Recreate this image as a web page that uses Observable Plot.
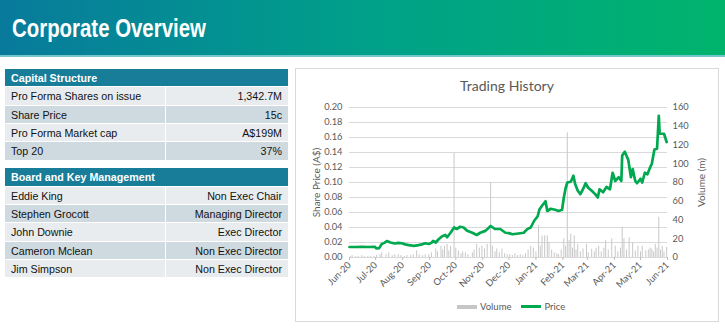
<!DOCTYPE html>
<html><head><meta charset="utf-8">
<script src="https://cdn.jsdelivr.net/npm/d3@7"></script>
<script src="https://cdn.jsdelivr.net/npm/@observablehq/plot@0.6"></script>
<style>
html,body{margin:0;padding:0;}
body{width:725px;height:330px;position:relative;background:#fff;font-family:"Liberation Sans",Arial,sans-serif;overflow:hidden}
#hdr{position:absolute;left:0;top:0;width:725px;height:55px;background:linear-gradient(90deg,#087a9c 0%,#00a08a 50%,#00b46c 100%);}
#hdrline{position:absolute;left:0;top:55px;width:725px;height:2px;background:#72c6cc}
#title{position:absolute;left:12px;top:13px;color:#fff;font-weight:bold;font-size:25.5px;line-height:30px;transform:scaleX(0.8);transform-origin:left top;white-space:nowrap}
.tbl{position:absolute;left:5px;width:283px}
.row{position:relative;height:18.35px;line-height:18.35px;font-size:10.7px;color:#111;box-sizing:border-box;border-bottom:1px solid #fff}
.hd{background:#177d99;color:#fff;font-weight:bold;padding-left:6px}
.lbl{position:absolute;left:6px;top:0}
.val{position:absolute;left:160px;right:0;top:0;bottom:0;border-left:1.5px solid #fff;text-align:right;padding-right:6px}
.light{background:#e8ecef}
.dark{background:#cfdae0}
#chartbox{position:absolute;left:295px;top:68px;width:422px;height:252px;border:1px solid #d9d9d9;}
#ctitle{position:absolute;left:295px;width:424px;top:77px;text-align:center;font-family:Lato,"Open Sans",sans-serif;font-size:14px;color:#595959}
#plot{position:absolute;left:296px;top:95px}
#legend{position:absolute;left:457px;top:300px;font-family:Lato,sans-serif;font-size:9.5px;color:#595959;white-space:nowrap;line-height:12px}
#legend span{display:inline-block;vertical-align:middle}
</style></head>
<body>
<div id="hdr"></div><div id="hdrline"></div>
<div id="title">Corporate Overview</div>
<div id="tables"></div>
<div id="chartbox"></div>
<div id="ctitle">Trading History</div>
<div id="plot"></div>
<div id="legend"><span style="width:20px;height:4px;background:#c6c6c6;margin-right:3px"></span><span>Volume</span><span style="width:20px;height:2.5px;background:#00a84f;margin-left:10px;margin-right:3px"></span><span>Price</span></div>
<script>
// ---------- table data ----------
const capitalTitle = "Capital Structure";
const capitalLabels = ["Pro Forma Shares on issue","Share Price","Pro Forma Market cap","Top 20"];
const capitalValues = ["1,342.7M","15c","A$199M","37%"];
const boardTitle = "Board and Key Management";
const boardNames = ["Eddie King","Stephen Grocott","John Downie","Cameron Mclean","Jim Simpson"];
const boardRoles = ["Non Exec Chair","Managing Director","Exec Director","Non Exec Director","Non Exec Director"];

// ---------- chart data ----------
const priceDates = ["2020-06-01","2020-06-08","2020-06-15","2020-06-22","2020-06-30","2020-07-02","2020-07-05","2020-07-08","2020-07-11","2020-07-14","2020-07-18","2020-07-23","2020-07-27","2020-07-31","2020-08-04","2020-08-08","2020-08-14","2020-08-19","2020-08-23","2020-08-27","2020-08-31","2020-09-03","2020-09-05","2020-09-08","2020-09-11","2020-09-15","2020-09-19","2020-09-21","2020-09-25","2020-09-29","2020-10-02","2020-10-06","2020-10-10","2020-10-14","2020-10-20","2020-10-25","2020-10-29","2020-11-04","2020-11-10","2020-11-15","2020-11-21","2020-11-27","2020-12-01","2020-12-05","2020-12-12","2020-12-18","2020-12-22","2020-12-26","2020-12-30","2021-01-03","2021-01-05","2021-01-08","2021-01-12","2021-01-14","2021-01-18","2021-01-23","2021-01-27","2021-01-31","2021-02-02","2021-02-04","2021-02-06","2021-02-10","2021-02-13","2021-02-15","2021-02-18","2021-02-21","2021-02-24","2021-02-27","2021-03-02","2021-03-06","2021-03-10","2021-03-13","2021-03-15","2021-03-19","2021-03-23","2021-03-27","2021-03-30","2021-04-02","2021-04-06","2021-04-09","2021-04-10","2021-04-13","2021-04-17","2021-04-20","2021-04-22","2021-04-25","2021-04-27","2021-05-01","2021-05-03","2021-05-06","2021-05-09","2021-05-12","2021-05-14","2021-05-17","2021-05-20","2021-05-22","2021-05-23","2021-05-28","2021-05-31"];
const prices = [0.014,0.014,0.0142,0.014,0.0142,0.012,0.0125,0.018,0.0195,0.022,0.020,0.0187,0.0195,0.019,0.0175,0.0165,0.0156,0.0165,0.0175,0.019,0.018,0.0195,0.022,0.020,0.024,0.028,0.030,0.027,0.033,0.040,0.038,0.041,0.040,0.0356,0.033,0.030,0.033,0.0355,0.042,0.038,0.038,0.033,0.0325,0.031,0.032,0.033,0.0378,0.040,0.049,0.055,0.064,0.069,0.075,0.062,0.065,0.0636,0.062,0.0636,0.080,0.092,0.100,0.101,0.109,0.098,0.089,0.0845,0.091,0.099,0.093,0.089,0.0845,0.080,0.091,0.087,0.094,0.091,0.113,0.102,0.107,0.102,0.136,0.141,0.130,0.107,0.118,0.102,0.099,0.105,0.100,0.113,0.111,0.120,0.125,0.144,0.145,0.189,0.165,0.165,0.154];

const volDates = ["2020-06-02","2020-06-04","2020-06-08","2020-06-11","2020-06-15","2020-06-18","2020-06-22","2020-06-25","2020-06-29","2020-07-02","2020-07-06","2020-07-08","2020-07-13","2020-07-16","2020-07-20","2020-07-23","2020-07-27","2020-07-30","2020-08-03","2020-08-06","2020-08-10","2020-08-13","2020-08-17","2020-08-20","2020-08-24","2020-08-27","2020-08-31","2020-09-03","2020-09-08","2020-09-10","2020-09-14","2020-09-16","2020-09-18","2020-09-21","2020-09-23","2020-09-25","2020-09-29","2020-10-01","2020-10-04","2020-10-07","2020-10-09","2020-10-12","2020-10-15","2020-10-20","2020-10-22","2020-10-25","2020-10-28","2020-10-31","2020-11-03","2020-11-06","2020-11-10","2020-11-12","2020-11-15","2020-11-17","2020-11-20","2020-11-23","2020-11-26","2020-11-29","2020-12-02","2020-12-05","2020-12-08","2020-12-11","2020-12-14","2020-12-17","2020-12-20","2020-12-23","2020-12-26","2020-12-29","2021-01-01","2021-01-04","2021-01-06","2021-01-08","2021-01-11","2021-01-14","2021-01-16","2021-01-19","2021-01-22","2021-01-25","2021-01-27","2021-01-30","2021-02-02","2021-02-04","2021-02-06","2021-02-08","2021-02-10","2021-02-12","2021-02-14","2021-02-16","2021-02-18","2021-02-21","2021-02-24","2021-02-28","2021-03-02","2021-03-06","2021-03-09","2021-03-11","2021-03-14","2021-03-17","2021-03-20","2021-03-22","2021-03-25","2021-03-29","2021-04-02","2021-04-05","2021-04-08","2021-04-10","2021-04-12","2021-04-15","2021-04-18","2021-04-22","2021-04-25","2021-04-28","2021-05-01","2021-05-03","2021-05-07","2021-05-10","2021-05-12","2021-05-14","2021-05-16","2021-05-18","2021-05-20","2021-05-22","2021-05-24","2021-05-26","2021-05-28","2021-05-31"];
const volumes = [1,2,1,1,2,1,1,1,1,2,3,5,3,5,2,3,3,2,1,2,2,3,7,3,2,3,3,5,9,6,12,8,12,14,7,12,111,10,7,4,6,5,3,5,8,14,10,12,9,14,80,12,6,9,5,9,4,3,3,2,4,2,3,2,4,8,12,10,6,34,12,23,23,23,16,8,5,4,3,8,20,12,133,18,25,10,23,8,14,6,9,14,5,9,6,10,12,6,10,18,8,20,12,6,10,32,20,8,21,16,7,12,6,12,7,8,10,9,6,14,10,43,8,12,6,11];

const monthTicks = ["2020-06-01","2020-07-01","2020-08-01","2020-09-01","2020-10-01","2020-11-01","2020-12-01","2021-01-01","2021-02-01","2021-03-01","2021-04-01","2021-05-01","2021-06-01"];
const priceTicks = [0,0.02,0.04,0.06,0.08,0.10,0.12,0.14,0.16,0.18,0.20];
const volumeTicks = [0,20,40,60,80,100,120,140,160];
const priceMax = 0.20, volumeMax = 160;

// ---------- tables ----------
function makeTable(top, title, labels, values){
  const t = document.createElement("div");
  t.className = "tbl"; t.style.top = top + "px";
  let h = `<div class="row hd">${title}</div>`;
  labels.forEach((l,i)=>{
    h += `<div class="row ${i%2===0?"light":"dark"}"><span class="lbl">${l}</span><span class="val">${values[i]}</span></div>`;
  });
  t.innerHTML = h;
  document.getElementById("tables").appendChild(t);
}
makeTable(69, capitalTitle, capitalLabels, capitalValues);
makeTable(168.3, boardTitle, boardNames, boardRoles);

// ---------- chart ----------
const parse = d3.utcParse("%Y-%m-%d");
const k = priceMax / volumeMax;
const priceData = priceDates.map((d,i)=>({date:parse(d), price:prices[i]}));
const volData = volDates.map((d,i)=>({date:parse(d), vol:volumes[i]}));
const months = monthTicks.map(parse);

const chart = Plot.plot({
  width: 422, height: 200,
  marginLeft: 53, marginRight: 51, marginTop: 12, marginBottom: 38,
  style: {fontFamily: "Lato, 'Open Sans', sans-serif", fontSize: "9.3px", color: "#595959", background: "transparent", overflow: "visible"},
  x: {type: "utc", domain: [months[0], months[months.length-1]]},
  y: {domain: [0, priceMax]},
  marks: [
    Plot.gridY(priceTicks, {stroke: "#d9d9d9", strokeOpacity: 1, strokeWidth: 1}),
    Plot.ruleX(volData, {x: "date", y1: 0, y2: d => d.vol * k, stroke: "#c8c8c8", strokeWidth: 1}),
    Plot.line(priceData, {x: "date", y: "price", stroke: "#00a84f", strokeWidth: 2.7, strokeLinejoin: "round"}),
    Plot.axisY(priceTicks, {anchor: "left", tickFormat: d3.format(".2f"), tickSize: 0, tickPadding: 7, label: null}),
    Plot.axisY({anchor: "left", ticks: [], label: "Share Price (A$)", labelAnchor: "center", labelOffset: 37, labelArrow: "none", fontSize: 10}),
    Plot.axisY(volumeTicks.map(v => v * k), {anchor: "right", tickFormat: d => Math.round(d / k), tickSize: 0, tickPadding: 5, label: null}),
    Plot.axisY({anchor: "right", ticks: [], label: "Volume (m)", labelAnchor: "center", labelOffset: 37, labelArrow: "none", fontSize: 10}),
    Plot.axisX(months, {anchor: "bottom", tickFormat: d3.utcFormat("%b-%y"), tickRotate: -45, tickSize: 3, tickPadding: 3,
      stroke: "#bfbfbf", label: null})
  ]
});
document.getElementById("plot").appendChild(chart);
</script>
</body></html>
